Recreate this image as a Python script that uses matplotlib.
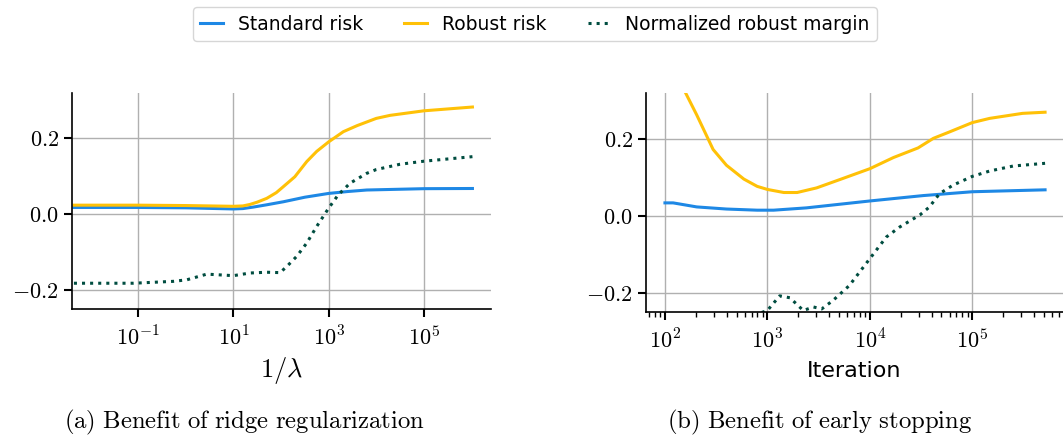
import numpy as np
import matplotlib
matplotlib.use('Agg')
import matplotlib.pyplot as plt
from matplotlib.ticker import FixedLocator, FuncFormatter, NullLocator, LogLocator

plt.rcParams['mathtext.fontset'] = 'cm'
plt.rcParams['font.family'] = 'DejaVu Sans'

BLUE = '#1E88E5'
YELLOW = '#FFC107'
GREEN = '#004D40'

# (a) ridge regularization, x = log10(1/lambda)
ridge_logx = [-2.35, -1.0, 0.0, 1.0, 1.2, 1.35, 1.5, 1.7, 1.9, 2.05, 2.29, 2.54, 2.75, 3.0, 3.31, 3.6,
              4.0, 4.29, 5.0, 6.02]
ridge_robust = [0.024, 0.024, 0.023, 0.021, 0.022, 0.026, 0.032, 0.042, 0.057, 0.073, 0.099, 0.139,
                0.166, 0.191, 0.218, 0.234, 0.253, 0.261, 0.273, 0.283]
ridge_std_logx = [-2.35, -1.0, 0.0, 1.0, 1.2, 1.42, 1.7, 2.05, 2.5, 3.0, 3.4, 3.8, 5.0, 6.02]
ridge_std = [0.018, 0.018, 0.017, 0.014, 0.015, 0.019, 0.025, 0.033, 0.045, 0.055, 0.060, 0.064, 0.0675,
             0.068]
ridge_margin_logx = [-2.35, -1.1, -0.26, 0.02, 0.44, 1.0, 1.35, 1.7, 1.98, 2.12, 2.33, 2.54, 2.75, 3.0,
                     3.2, 3.45, 3.8, 4.0, 4.5, 5.0, 6.02]
ridge_margin = [-0.182, -0.182, -0.177, -0.173, -0.158, -0.162, -0.155, -0.153, -0.154, -0.138, -0.111,
                -0.076, -0.032, 0.016, 0.051, 0.082, 0.108, 0.118, 0.132, 0.140, 0.152]

# (b) early stopping, x = log10(iteration)
es_rob_logx = [2.0, 2.1, 2.2, 2.31, 2.47, 2.6, 2.77, 2.9, 3.0, 3.16, 3.29, 3.48, 3.71, 4.0, 4.23, 4.47,
               4.62, 4.78, 5.0, 5.17, 5.49, 5.71]
es_robust = [0.46, 0.385, 0.321, 0.263, 0.173, 0.132, 0.096, 0.077, 0.069, 0.061, 0.061, 0.073, 0.095,
             0.123, 0.152, 0.177, 0.202, 0.219, 0.243, 0.254, 0.267, 0.270]
es_std_logx = [2.0, 2.08, 2.31, 2.6, 2.9, 3.06, 3.38, 4.0, 4.52, 5.0, 5.71]
es_std = [0.034, 0.034, 0.0235, 0.018, 0.015, 0.015, 0.021, 0.039, 0.053, 0.063, 0.068]
es_margin_logx = [2.0, 2.5, 2.8, 3.0, 3.12, 3.22, 3.35, 3.45, 3.53, 3.64, 3.8, 4.0, 4.16, 4.29, 4.49,
                  4.58, 4.68, 4.81, 5.0, 5.17, 5.4, 5.71]
es_margin = [-0.5, -0.35, -0.265, -0.246, -0.208, -0.213, -0.246, -0.237, -0.242, -0.22, -0.181, -0.111,
             -0.055, -0.029, 0.003, 0.023, 0.058, 0.08, 0.103, 0.117, 0.13, 0.137]

W, H = 1063, 437
fig = plt.figure(figsize=(W / 100, H / 100), dpi=100)
ax1 = fig.add_axes([72 / W, (H - 309) / H, (491 - 72) / W, (309 - 93) / H])
ax2 = fig.add_axes([646 / W, (H - 312) / H, (1063 - 646) / W, (312 - 93) / H])

lw = 2.2
for ax in (ax1, ax2):
    ax.set_xscale('log')
    ax.set_ylim(-0.25, 0.32)
    ax.yaxis.set_major_locator(FixedLocator([-0.2, 0.0, 0.2]))
    ax.yaxis.set_major_formatter(FuncFormatter(lambda v, p: r'$%.1f$' % v if abs(v) > 1e-9 else r'$0.0$'))
    ax.xaxis.set_major_formatter(FuncFormatter(lambda v, p: r'$10^{%d}$' % round(np.log10(v))))
    ax.grid(True, which='major', color='#b0b0b0', linewidth=1.0)
    ax.spines['top'].set_visible(False)
    ax.spines['right'].set_visible(False)
    ax.spines['left'].set_linewidth(1.2)
    ax.spines['bottom'].set_linewidth(1.2)
    ax.tick_params(which='major', length=6, width=1.5, labelsize=16)
    ax.tick_params(axis='x', which='major', pad=6)
    ax.tick_params(which='minor', length=3.5, width=1.0)
    ax.set_axisbelow(True)

l1, = ax1.plot(10 ** np.array(ridge_std_logx), ridge_std, color=BLUE, lw=lw, label='Standard risk')
l2, = ax1.plot(10 ** np.array(ridge_logx), ridge_robust, color=YELLOW, lw=lw, label='Robust risk')
l3, = ax1.plot(10 ** np.array(ridge_margin_logx), ridge_margin, color=GREEN, lw=lw, ls=':',
               label='Normalized robust margin')
ax1.set_xlim(10 ** -2.39, 10 ** 6.41)
ax1.xaxis.set_major_locator(FixedLocator([1e-1, 1e1, 1e3, 1e5]))
ax1.xaxis.set_minor_locator(NullLocator())
ax1.set_xlabel(r'$1/\lambda$', fontsize=19, labelpad=4)

ax2.plot(10 ** np.array(es_std_logx), es_std, color=BLUE, lw=lw)
ax2.plot(10 ** np.array(es_rob_logx), es_robust, color=YELLOW, lw=lw)
ax2.plot(10 ** np.array(es_margin_logx), es_margin, color=GREEN, lw=lw, ls=':')
ax2.set_xlim(10 ** 1.815, 10 ** 5.885)
ax2.xaxis.set_major_locator(FixedLocator([1e2, 1e3, 1e4, 1e5]))
ax2.xaxis.set_minor_locator(LogLocator(base=10, subs=np.arange(2, 10)))
ax2.set_xlabel('Iteration', fontsize=16, labelpad=6)

fig.legend(handles=[l1, l2, l3], loc='center', bbox_to_anchor=(535 / W, 1 - 24 / H), ncol=3,
           fontsize=13.5, frameon=True, handlelength=1.2, columnspacing=2.2, fancybox=True,
           edgecolor='#cccccc')

fig.text(244 / W, 1 - 422 / H, r'$\mathrm{(a)\ Benefit\ of\ ridge\ regularization}$',
         ha='center', va='center', fontsize=17.8)
fig.text(820 / W, 1 - 422 / H, r'$\mathrm{(b)\ Benefit\ of\ early\ stopping}$',
         ha='center', va='center', fontsize=17.8)

fig.savefig('out.png', dpi=100)
